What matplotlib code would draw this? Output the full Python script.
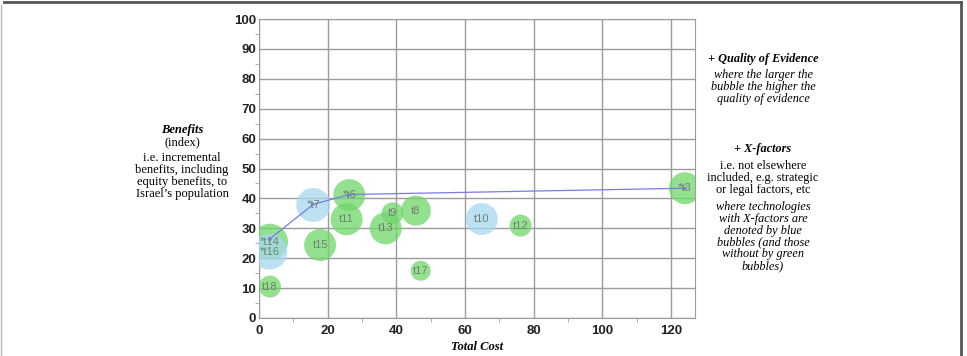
import matplotlib.pyplot as plt
from matplotlib.lines import Line2D

# === Data ===
labels = ['*t14', '*t16', 't18', '*t7', '*t6', 't11', 't15', 't9', 't13', 't8', 't17', 't10', 't12', '*t3']
total_cost = [3.2, 3.0, 3.2, 15.8, 26.3, 25.5, 17.8, 38.9, 36.9, 45.7, 47.1, 64.9, 76.2, 124.1]
benefits = [25.5, 22.2, 10.5, 37.8, 41.1, 33.0, 24.4, 35.0, 30.0, 35.9, 15.8, 33.1, 30.9, 43.4]
quality = [18, 18, 11, 17, 16, 16, 16, 11, 16, 15, 10, 16, 11, 16]   # bubble radius scale
x_factor = [False, True, False, True, False, False, False, False, False, False, False, True, False, False]

# efficiency frontier
frontier_x = [3.2, 15.8, 26.3, 124.1]
frontier_y = [26.5, 38.0, 41.3, 43.4]

green = '#6fd66a'
blue = '#a6d8f0'

plt.rcParams['font.family'] = ['Liberation Sans', 'DejaVu Sans']

fig = plt.figure(figsize=(9.67, 3.56), dpi=100)
ax = fig.add_axes([259 / 967, 1 - 318 / 356, 436 / 967, 299 / 356])

# bubbles (radius in px -> marker area in points^2)
sizes = [(2 * q * 0.72) ** 2 for q in quality]
cols = [blue if xf else green for xf in x_factor]
ax.scatter(total_cost, benefits, s=sizes, c=cols, alpha=0.75, edgecolors='none', zorder=3)

ax.plot(frontier_x, frontier_y, color='#7b7be6', lw=0.9, zorder=4,
        marker='>', markersize=3, markeredgewidth=0)

for lab, x, y in zip(labels, total_cost, benefits):
    ax.text(x, y, lab, fontsize=8, color='#6f806f', ha='center', va='center', zorder=5)

ax.set_xlim(0, 127)
ax.set_ylim(0, 100)
ax.set_xticks(range(0, 121, 20))
ax.set_yticks(range(0, 101, 10))
ax.set_xticks(range(10, 121, 20), minor=True)
ax.set_yticks(range(5, 100, 10), minor=True)
ax.grid(True, which='major', color='#9c9c9c', lw=1.0, zorder=0)
ax.set_axisbelow(True)
for sp in ax.spines.values():
    sp.set_color('#9c9c9c')
ax.tick_params(which='major', length=0, labelsize=9.5, colors='#222222')
ax.tick_params(axis='x', which='major', pad=5)
ax.tick_params(axis='y', which='major', pad=2)
ax.tick_params(which='minor', length=3, color='#a0a0a0')
for t in ax.get_xticklabels() + ax.get_yticklabels():
    t.set_fontweight('bold')

serif = ['Liberation Serif', 'DejaVu Serif']

ax.set_xlabel('Total Cost', family=serif, fontsize=9, fontweight='bold', style='italic', labelpad=3)

# left annotation
fig.text(182 / 967, 1 - 130 / 356, 'Benefits', family=serif, fontsize=9, fontweight='bold',
         style='italic', ha='center', va='center')
fig.text(182 / 967, 1 - 142 / 356, '(index)', family=serif, fontsize=9, ha='center', va='center')
fig.text(182 / 967, 1 - 176 / 356,
         "i.e. incremental\nbenefits, including\nequity benefits, to\nIsrael\u2019s population",
         family=serif, fontsize=9, ha='center', va='center', linespacing=0.98)

# right annotations
cx = 763 / 967
fig.text(cx, 1 - 59 / 356, '+ Quality of Evidence', family=serif, fontsize=8.8, fontweight='bold',
         style='italic', ha='center', va='center')
fig.text(cx, 1 - 87 / 356, 'where the larger the\nbubble the higher the\nquality of evidence',
         family=serif, fontsize=8.8, style='italic', ha='center', va='center', linespacing=0.98)
fig.text(cx, 1 - 149 / 356, '+ X-factors', family=serif, fontsize=8.8, fontweight='bold',
         style='italic', ha='center', va='center')
fig.text(cx, 1 - 178 / 356, 'i.e. not elsewhere\nincluded, e.g. strategic\nor legal factors, etc',
         family=serif, fontsize=8.8, ha='center', va='center', linespacing=0.98)
fig.text(cx, 1 - 236.5 / 356,
         'where technologies\nwith X-factors are\ndenoted by blue\nbubbles (and those\nwithout by green\nbubbles)',
         family=serif, fontsize=8.8, style='italic', ha='center', va='center', linespacing=0.98)

# frame around the figure
fig.add_artist(Line2D([4 / 967, 961 / 967], [1 - 1.5 / 356, 1 - 1.5 / 356], color='#555555', lw=2))
fig.add_artist(Line2D([961 / 967, 961 / 967], [0, 1 - 1.5 / 356], color='#555555', lw=2))
fig.add_artist(Line2D([1 / 967, 1 / 967], [0, 1 - 5 / 356], color='#bbbbbb', lw=1))

fig.savefig('out.png', dpi=100)
